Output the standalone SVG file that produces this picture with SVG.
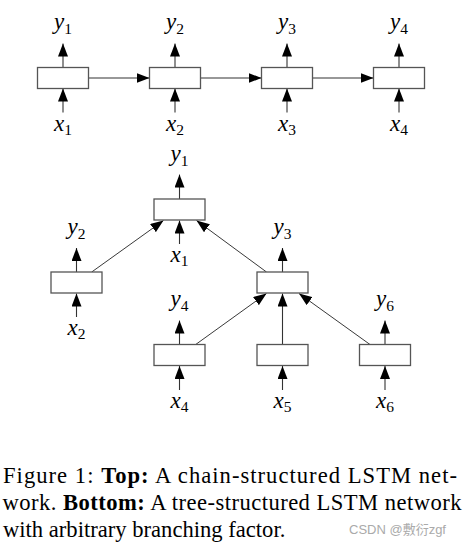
<svg xmlns="http://www.w3.org/2000/svg" width="467" height="546" viewBox="0 0 467 546">
<defs>
<marker id="ah" markerUnits="userSpaceOnUse" markerWidth="13" markerHeight="10" refX="13" refY="5" orient="auto">
<path d="M0,0 L13,5 L0,10 z" fill="#000"/>
</marker>
<style>
.box{fill:#fff;stroke:#555;stroke-width:1.3}
.e{stroke:#333;stroke-width:1.1;fill:none;marker-end:url(#ah)}
.d{stroke:#222;stroke-width:0.9;fill:none;marker-end:url(#ah)}
.m{font-family:"Liberation Serif",serif;font-style:italic;font-size:23px;fill:#000;text-anchor:middle}
.s{font-style:normal;font-size:15.5px}
.cap{font-family:"Liberation Serif",serif;font-size:22.6px;fill:#000}
.wm{font-family:"Liberation Sans","Noto Sans CJK SC",sans-serif;font-size:13px;fill:#aaa}
</style>
</defs>
<rect width="467" height="546" fill="#fff"/>
<g id="connectors">
<line class="e" x1="63" y1="67.5" x2="63" y2="43.5"/>
<line class="e" x1="175" y1="67.5" x2="175" y2="43.5"/>
<line class="e" x1="287" y1="67.5" x2="287" y2="43.5"/>
<line class="e" x1="399" y1="67.5" x2="399" y2="43.5"/>
<line class="e" x1="63" y1="112.5" x2="63" y2="88.5"/>
<line class="e" x1="175" y1="112.5" x2="175" y2="88.5"/>
<line class="e" x1="287" y1="112.5" x2="287" y2="88.5"/>
<line class="e" x1="399" y1="112.5" x2="399" y2="88.5"/>
<line class="e" x1="88.5" y1="78" x2="149.5" y2="78"/>
<line class="e" x1="200.5" y1="78" x2="261.5" y2="78"/>
<line class="e" x1="312.5" y1="78" x2="373.5" y2="78"/>
<line class="e" x1="179.5" y1="199" x2="179.5" y2="174.5"/>
<line class="e" x1="179.5" y1="244" x2="179.5" y2="220.5"/>
<line class="e" x1="76.5" y1="272" x2="76.5" y2="248"/>
<line class="e" x1="76.5" y1="317" x2="76.5" y2="293.5"/>
<line class="e" x1="282.5" y1="272" x2="282.5" y2="248"/>
<line class="d" x1="91.7" y1="272" x2="163.5" y2="220.5"/>
<line class="d" x1="266.5" y1="272" x2="196.5" y2="220.5"/>
<line class="e" x1="179.5" y1="344.5" x2="179.5" y2="320.5"/>
<line class="e" x1="385" y1="344.5" x2="385" y2="320.5"/>
<line class="e" x1="179.5" y1="390" x2="179.5" y2="366"/>
<line class="e" x1="282.5" y1="390" x2="282.5" y2="366"/>
<line class="e" x1="385" y1="390" x2="385" y2="366"/>
<line class="d" x1="195.7" y1="344.5" x2="266.5" y2="293.5"/>
<line class="e" x1="282.5" y1="344.5" x2="282.5" y2="293.5"/>
<line class="d" x1="370" y1="344.5" x2="299" y2="293.5"/>
</g>
<g id="c1"><rect class="box" x="37.5" y="67.5" width="51" height="21"/></g>
<g id="c2"><rect class="box" x="149.5" y="67.5" width="51" height="21"/></g>
<g id="c3"><rect class="box" x="261.5" y="67.5" width="51" height="21"/></g>
<g id="c4"><rect class="box" x="373.5" y="67.5" width="51" height="21"/></g>
<g id="t1"><rect class="box" x="154" y="199" width="51" height="21"/></g>
<g id="t2"><rect class="box" x="51" y="272" width="51" height="21"/></g>
<g id="t3"><rect class="box" x="257" y="272" width="51" height="21"/></g>
<g id="t4"><rect class="box" x="154" y="344.5" width="51" height="21"/></g>
<g id="t5"><rect class="box" x="257" y="344.5" width="51" height="21"/></g>
<g id="t6"><rect class="box" x="359.5" y="344.5" width="51" height="21"/></g>
<g id="labels">
<text class="m" x="63" y="29">y<tspan class="s" dy="4.5">1</tspan></text>
<text class="m" x="175" y="29">y<tspan class="s" dy="4.5">2</tspan></text>
<text class="m" x="287" y="29">y<tspan class="s" dy="4.5">3</tspan></text>
<text class="m" x="399" y="29">y<tspan class="s" dy="4.5">4</tspan></text>
<text class="m" x="63" y="130.5">x<tspan class="s" dy="4">1</tspan></text>
<text class="m" x="175" y="130.5">x<tspan class="s" dy="4">2</tspan></text>
<text class="m" x="287" y="130.5">x<tspan class="s" dy="4">3</tspan></text>
<text class="m" x="399" y="130.5">x<tspan class="s" dy="4">4</tspan></text>
<text class="m" x="179.5" y="161">y<tspan class="s" dy="4.5">1</tspan></text>
<text class="m" x="179.5" y="262">x<tspan class="s" dy="4">1</tspan></text>
<text class="m" x="76.5" y="234">y<tspan class="s" dy="4.5">2</tspan></text>
<text class="m" x="76.5" y="335">x<tspan class="s" dy="4">2</tspan></text>
<text class="m" x="282.5" y="234">y<tspan class="s" dy="4.5">3</tspan></text>
<text class="m" x="179.5" y="306">y<tspan class="s" dy="4.5">4</tspan></text>
<text class="m" x="385" y="306">y<tspan class="s" dy="4.5">6</tspan></text>
<text class="m" x="179.5" y="407.5">x<tspan class="s" dy="4">4</tspan></text>
<text class="m" x="282.5" y="407.5">x<tspan class="s" dy="4">5</tspan></text>
<text class="m" x="385" y="407.5">x<tspan class="s" dy="4">6</tspan></text>
</g>
<g id="caption">
<text class="cap" x="3" y="482.5" textLength="454" lengthAdjust="spacing">Figure 1:  <tspan font-weight="bold">Top:</tspan>  A chain-structured LSTM net-</text>
<text class="cap" x="2.5" y="510" textLength="459" lengthAdjust="spacing">work.  <tspan font-weight="bold">Bottom:</tspan> A tree-structured LSTM network</text>
<text class="cap" x="3" y="537">with arbitrary branching factor.</text>
<text class="wm" x="349" y="534">CSDN @敷衍zgf</text>
</g>
</svg>
